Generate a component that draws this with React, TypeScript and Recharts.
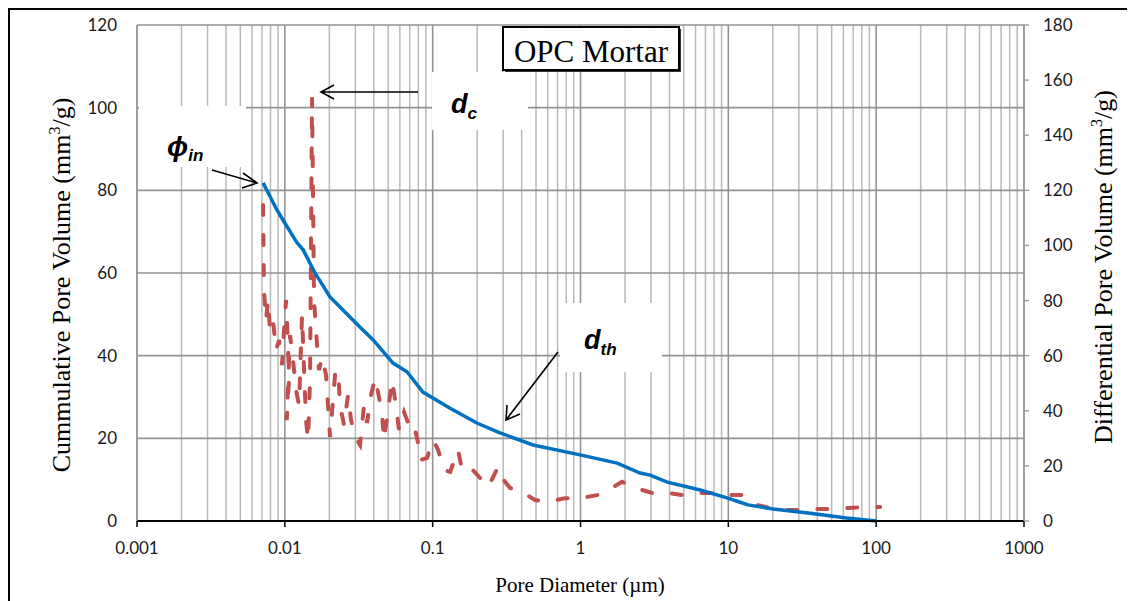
import { CartesianGrid, Line, LineChart, XAxis, YAxis } from "recharts";

// pore diameter (µm) vs cumulative pore volume (mm3/g), left axis
const cumDiameter = [
  0.00713, 0.00886, 0.01, 0.0121, 0.0133, 0.016, 0.0202, 0.0236, 0.0323, 0.0396, 0.0539, 0.067, 0.0859,
  0.1312, 0.199, 0.277, 0.478, 0.994, 1.77, 2.53, 2.96, 3.86, 6.46, 9.8, 11.9, 13.6, 20.1, 35.7, 63, 100,
];
const cumVolume = [
  81.8, 75.2, 72.1, 67.3, 65.6, 60.0, 54.2, 51.8, 46.9, 43.8, 38.2, 36.1, 31.2, 27.3, 23.7, 21.5, 18.4, 16.0,
  14.0, 11.6, 11.1, 9.4, 7.5, 5.6, 4.6, 3.9, 2.9, 1.9, 0.7, 0,
];

// pore diameter (µm) vs differential pore volume (mm3/g), right axis
const diffDiameter = [
  0.00712, 0.00723, 0.00746, 0.00769, 0.00794, 0.00832, 0.00872, 0.00914, 0.00957, 0.00988, 0.01019, 0.01051,
  0.01067, 0.0103, 0.01084, 0.01136, 0.01191, 0.01248, 0.01307, 0.01349, 0.01391, 0.01435, 0.01481, 0.01528,
  0.01576, 0.01651, 0.01703, 0.01785, 0.019, 0.02022, 0.02186, 0.02291, 0.02363, 0.02515, 0.02676, 0.02804,
  0.02985, 0.03227, 0.03434, 0.03598, 0.0383, 0.04076, 0.04272, 0.04547, 0.04691, 0.04993, 0.05313, 0.05568,
  0.05925, 0.06406, 0.06818, 0.07369, 0.07964, 0.08218, 0.09165, 0.1006, 0.1088, 0.1195, 0.1312, 0.1486,
  0.1581, 0.1791, 0.2093, 0.237, 0.277, 0.2948, 0.334, 0.4026, 0.493, 0.6037, 0.7866, 1.0, 1.295, 1.537,
  1.912, 2.342, 3.051, 3.855, 4.946, 6.152, 7.771, 9.97, 12.99, 15.66, 19.18, 25.0, 31.6, 39.9, 50.4, 64.7,
  84.3, 106.4,
];
const diffVolume = [
  114.7, 83.8, 72.9, 80.2, 69.3, 72.9, 62.0, 65.7, 56.6, 69.3, 80.2, 63.9, 51.2, 36.6, 67.5, 58.4, 47.5, 42.1,
  74.7, 54.8, 36.6, 29.4, 51.2, 153.8, 80.2, 63.9, 54.8, 59.5, 53.0, 30.5, 53.0, 54.8, 42.1, 34.8, 45.7, 36.6,
  30.5, 27.6, 42.1, 35.6, 45.7, 51.9, 46.8, 38.5, 29.4, 40.3, 51.2, 44.0, 33.0, 39.5, 35.6, 36.6, 28.3, 22.1,
  22.9, 29.4, 25.8, 18.5, 17.8, 25.8, 18.5, 19.6, 15.6, 12.3, 19.6, 15.6, 12.0, 10.5, 7.6, 6.9, 8.3, 8.3, 9.4,
  11.2, 14.2, 12.0, 10.2, 10.2, 9.4, 10.2, 10.2, 9.4, 9.4, 5.8, 4.7, 4.0, 4.0, 4.4, 4.4, 4.7, 5.1, 5.1,
];

const xTicks = [0.001, 0.01, 0.1, 1, 10, 100, 1000];
const minorTicks = [
  0.002, 0.003, 0.004, 0.005, 0.006, 0.007, 0.008, 0.009,
  0.02, 0.03, 0.04, 0.05, 0.06, 0.07, 0.08, 0.09,
  0.2, 0.3, 0.4, 0.5, 0.6, 0.7, 0.8, 0.9,
  2, 3, 4, 5, 6, 7, 8, 9,
  20, 30, 40, 50, 60, 70, 80, 90,
  200, 300, 400, 500, 600, 700, 800, 900,
];
const leftTicks = [0, 20, 40, 60, 80, 100, 120];
const rightTicks = [0, 20, 40, 60, 80, 100, 120, 140, 160, 180];

const cumData = cumDiameter.map((d, i) => ({ d, v: cumVolume[i] }));
const diffData = diffDiameter.map((d, i) => ({ d, v: diffVolume[i] }));

const tickFont = { fill: "#1a1a1a", fontSize: 17, fontFamily: "Lato, sans-serif" };
const serif = "'Liberation Serif', 'Times New Roman', serif";
const bold = "'Liberation Sans', Arial, sans-serif";

// minor log gridlines, placed through the x axis scale
const minorGrid = ({ xAxis }: any) => {
  const s = xAxis?.scale;
  if (!s) return [];
  return minorTicks.map((t) => (typeof s === "function" ? s(t) : s.map(t)));
};

function Annotations() {
  return (
    <svg
      width={1135}
      height={600}
      style={{ position: "absolute", left: 0, top: 0, pointerEvents: "none" }}
    >
      {/* phi_in */}
      <rect x={129} y={96} width={107} height={61} fill="#fff" />
      <text x={157} y={146} fontFamily={bold} fontWeight="bold" fontStyle="italic" fontSize={28}>
        ϕ
        <tspan fontSize={17} dy={5}>in</tspan>
      </text>
      <path d="M202 160 L247 173 M233 163 L247 173 L232 178" stroke="#000" strokeWidth={1.6} fill="none" />

      {/* d_c */}
      <rect x={422} y={62} width={96} height={58} fill="#fff" />
      <text x={441} y={103} fontFamily={bold} fontWeight="bold" fontStyle="italic" fontSize={27}>
        d
        <tspan fontSize={17} dy={6}>c</tspan>
      </text>
      <path d="M408 82 L311 82 M324 75 L311 82 L324 89" stroke="#000" strokeWidth={1.6} fill="none" />

      {/* d_th */}
      <rect x={550} y={293} width={102} height={69} fill="#fff" />
      <text x={574} y={339} fontFamily={bold} fontWeight="bold" fontStyle="italic" fontSize={27}>
        d
        <tspan fontSize={17} dy={6}>th</tspan>
      </text>
      <path d="M548 342 L496 410 M497 395 L496 410 L510 404" stroke="#000" strokeWidth={1.6} fill="none" />

      {/* title box */}
      <rect x={495} y={19} width={176} height={43} fill="#333" />
      <rect x={493} y={17} width={176} height={43} fill="#fff" stroke="#000" strokeWidth={2} />
      <text x={581} y={52} textAnchor="middle" fontFamily={serif} fontSize={31}>
        OPC Mortar
      </text>

      {/* axis titles */}
      <text
        transform="translate(60 275) rotate(-90)"
        textAnchor="middle"
        fontFamily={serif}
        fontSize={26}
      >
        Cummulative Pore Volume (mm
        <tspan fontSize={16} dy={-10}>3</tspan>
        <tspan dy={10}>/g)</tspan>
      </text>
      <text
        transform="translate(1102 257) rotate(-90)"
        textAnchor="middle"
        fontFamily={serif}
        fontSize={26}
      >
        Differential Pore Volume (mm
        <tspan fontSize={16} dy={-10}>3</tspan>
        <tspan dy={10}>/g)</tspan>
      </text>
      <text x={570} y={582} textAnchor="middle" fontFamily={serif} fontSize={21}>
        Pore Diameter (µm)
      </text>
    </svg>
  );
}

export default function App() {
  return (
    <div
      style={{
        position: "relative",
        width: 1140,
        height: 600,
        border: "2px solid #000",
        overflow: "hidden",
        background: "#fff",
      }}
    >
      <LineChart width={1135} height={600} margin={{ top: 15, right: 0, bottom: 0, left: 0 }}>
        <CartesianGrid
          xAxisId="main"
          yAxisId="left"
          horizontal={false}
          verticalCoordinatesGenerator={minorGrid}
          stroke="#b9b9b9"
          strokeWidth={1.5}
        />
        <CartesianGrid xAxisId="main" yAxisId="left" stroke="#939393" strokeWidth={1.6} />
        <XAxis
          xAxisId="main"
          type="number"
          dataKey="d"
          scale="log"
          domain={[0.001, 1000]}
          ticks={xTicks}
          tickFormatter={(v) => String(v)}
          height={89}
          tick={tickFont}
          tickSize={6}
          tickMargin={15}
          axisLine={{ stroke: "#000", strokeWidth: 2 }}
          tickLine={{ stroke: "#000", strokeWidth: 1.5 }}
        />
        <YAxis
          yAxisId="left"
          domain={[0, 120]}
          ticks={leftTicks}
          width={127}
          tick={tickFont}
          tickSize={0}
          tickMargin={20}
          axisLine={{ stroke: "#9a9a9a", strokeWidth: 1.4 }}
          tickLine={false}
        />
        <YAxis
          yAxisId="right"
          orientation="right"
          domain={[0, 180]}
          ticks={rightTicks}
          width={121}
          tick={{ ...tickFont, textAnchor: "start" }}
          tickSize={5}
          tickMargin={14}
          axisLine={{ stroke: "#9a9a9a", strokeWidth: 1.4 }}
          tickLine={{ stroke: "#9a9a9a", strokeWidth: 1.4 }}
        />
        <Line
          xAxisId="main"
          yAxisId="right"
          data={diffData}
          dataKey="v"
          type="linear"
          stroke="#C0504D"
          strokeWidth={4}
          strokeDasharray="10 20"
          strokeLinecap="round"
          dot={false}
          isAnimationActive={false}
        />
        <Line
          xAxisId="main"
          yAxisId="left"
          data={cumData}
          dataKey="v"
          type="linear"
          stroke="#0070C0"
          strokeWidth={3.5}
          dot={false}
          isAnimationActive={false}
        />
      </LineChart>
      <Annotations />
    </div>
  );
}
